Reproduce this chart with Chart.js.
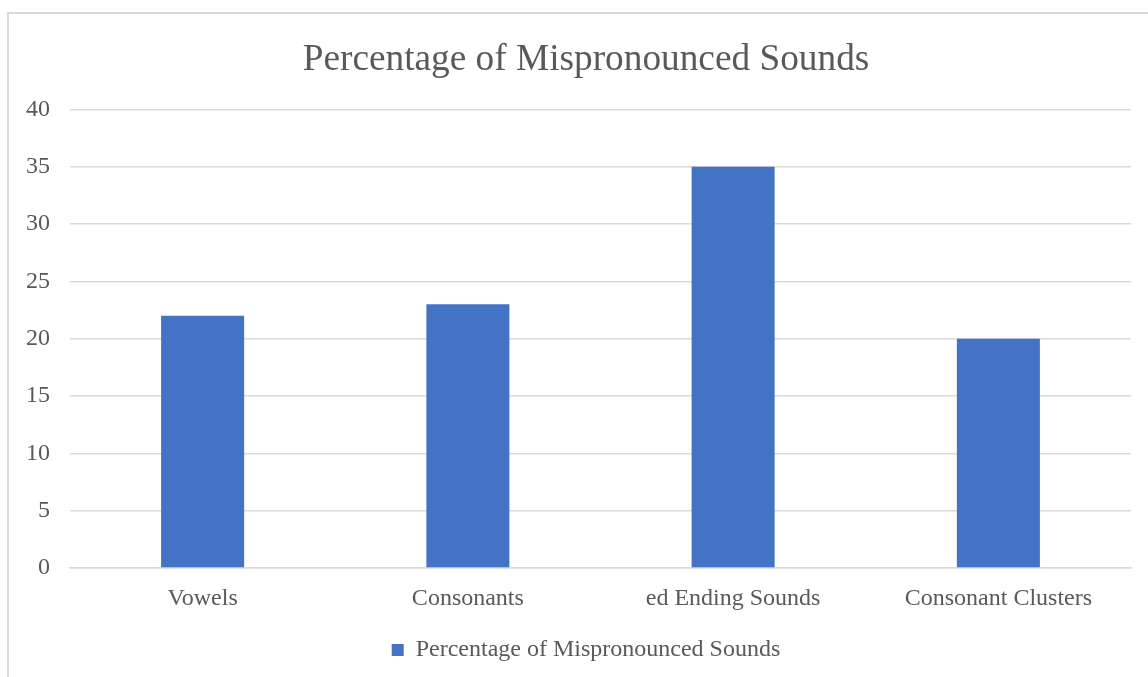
<!DOCTYPE html>
<html>
<head>
<meta charset="utf-8">
<title>Percentage of Mispronounced Sounds</title>
<script src="https://cdn.jsdelivr.net/npm/chart.js@4/dist/chart.umd.min.js"></script>
<style>
  html, body { margin: 0; padding: 0; background: #ffffff; overflow: hidden; }
  #wrap { position: relative; width: 1148px; height: 677px; }
  #frame {
    position: absolute; left: 7px; top: 12px; right: -10px; bottom: -10px;
    border-left: 2px solid #d9d9d9; border-top: 2px solid #d9d9d9;
    pointer-events: none;
  }
  canvas { position: absolute; left: 0; top: 0; }
</style>
</head>
<body>
<div id="wrap">
  <div id="frame"></div>
  <canvas id="chart" width="1148" height="677"></canvas>
</div>
<script>
// Sound categories and the share of mispronunciations in each
const categories = ['Vowels', 'Consonants', 'ed Ending Sounds', 'Consonant Clusters'];
const percentages = [22, 23, 35, 20];
const seriesName = 'Percentage of Mispronounced Sounds';
const yTicks = [0, 5, 10, 15, 20, 25, 30, 35, 40];

const serif = "'Liberation Serif', 'Times New Roman', serif";
const textColor = '#595959';
const gridColor = '#d9d9d9';

new Chart(document.getElementById('chart'), {
  type: 'bar',
  data: {
    labels: categories,
    datasets: [{
      label: seriesName,
      data: percentages,
      backgroundColor: '#4472c4',
      borderWidth: 0,
      categoryPercentage: 1.0,
      barPercentage: 0.313
    }]
  },
  options: {
    responsive: false,
    animation: false,
    layout: { padding: { left: 24, right: 0, top: 38, bottom: 5 } },
    plugins: {
      title: {
        display: true,
        text: seriesName,
        color: textColor,
        font: { family: serif, size: 37.3, weight: 'normal' },
        padding: { top: 0, bottom: 26.6 }
      },
      legend: {
        position: 'bottom',
        labels: {
          color: textColor,
          font: { family: serif, size: 24 },
          boxWidth: 12,
          boxHeight: 12,
          padding: 10
        }
      },
      tooltip: { enabled: false }
    },
    scales: {
      x: {
        grid: { display: false },
        border: { display: true, color: gridColor, width: 1.5 },
        ticks: {
          color: textColor,
          font: { family: serif, size: 24 },
          padding: 8,
          maxRotation: 0
        },
        afterFit: (scale) => { scale.height = 60; }
      },
      y: {
        min: 0,
        max: 40,
        afterBuildTicks: (scale) => { scale.ticks = yTicks.map(v => ({ value: v })); },
        grid: { color: gridColor, lineWidth: 1.5, drawTicks: false },
        border: { display: false },
        ticks: {
          color: textColor,
          font: { family: serif, size: 24 },
          padding: 20
        },
        afterFit: (scale) => { scale.width = 46; }
      },
      // empty right-hand margin so the title and legend sit over the full chart box
      yRight: {
        position: 'right',
        display: true,
        grid: { display: false, drawTicks: false },
        border: { display: false },
        ticks: { display: false },
        afterFit: (scale) => { scale.width = 17; }
      }
    }
  }
});
</script>
</body>
</html>
